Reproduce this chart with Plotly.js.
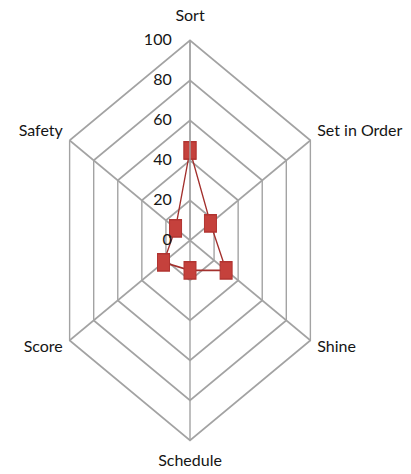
<!DOCTYPE html>
<html>
<head>
<meta charset="utf-8">
<script src="https://cdn.plot.ly/plotly-3.0.1.min.js"></script>
<style>
  html, body { margin: 0; padding: 0; background: #ffffff; overflow: hidden; width: 411px; height: 474px; }
  #chart { width: 411px; height: 329px; transform-origin: 0 0; }
</style>
</head>
<body>
<div id="chart"></div>
<script>
// Data
const categories = ["Sort", "Set in Order", "Shine", "Schedule", "Score", "Safety"];
const scores = [45, 17, 30, 15, 22, 12];
const radialTicks = [0, 20, 40, 60, 80, 100];

// Reference picture is stretched vertically relative to a regular radar
const STRETCH = 1.439;

const gridColor = "#a3a3a3";
const fontFamily = "Lato, 'Open Sans', 'Liberation Sans', sans-serif";

const trace = {
  type: "scatterpolar",
  r: scores.concat([scores[0]]),
  theta: categories.concat([categories[0]]),
  mode: "lines+markers",
  line: { color: "#a3302d", width: 1.3 },
  marker: { symbol: "square", size: 12, color: "#c5413c", line: { color: "#b13431", width: 1 } },
  hoverinfo: "skip",
  showlegend: false
};

const layout = {
  width: 411,
  height: 329,
  margin: { l: 51, r: 82, t: 28, b: 23, pad: 0 },
  paper_bgcolor: "#ffffff",
  plot_bgcolor: "#ffffff",
  font: { family: fontFamily, size: 16, color: "#151515" },
  showlegend: false,
  polar: {
    bgcolor: "#ffffff",
    gridshape: "linear",
    domain: { x: [0, 1], y: [0, 1] },
    angularaxis: {
      rotation: 90,
      direction: "clockwise",
      type: "category",
      categoryorder: "array",
      categoryarray: categories,
      showline: true,
      linecolor: gridColor,
      linewidth: 1.4,
      showgrid: true,
      gridcolor: gridColor,
      gridwidth: 1.4,
      ticks: "outside",
      ticklen: 4,
      tickcolor: "rgba(0,0,0,0)",
      tickfont: { family: fontFamily, size: 16, color: "#151515" }
    },
    radialaxis: {
      range: [0, 100],
      tickmode: "array",
      tickvals: radialTicks,
      ticktext: radialTicks.map(String),
      angle: 90,
      side: "counterclockwise",
      tickangle: 90,
      showline: true,
      linecolor: gridColor,
      linewidth: 1.4,
      showgrid: true,
      gridcolor: gridColor,
      gridwidth: 1.4,
      ticks: "outside",
      ticklen: 12,
      tickcolor: "rgba(0,0,0,0)",
      tickfont: { family: fontFamily, size: 16, color: "#151515" }
    }
  }
};

Plotly.newPlot("chart", [trace], layout, { displayModeBar: false, staticPlot: true }).then(function (gd) {
  gd.style.transform = "scaleY(" + STRETCH + ")";
  const centreY = layout.margin.t + (layout.height - layout.margin.t - layout.margin.b) / 2;
  // keep text undistorted: counter-scale each label about its own centre
  gd.querySelectorAll(".main-svg text").forEach(function (t) {
    const b = t.getBBox();
    const cx = b.x + b.width / 2, cy = b.y + b.height / 2;
    let shift = 0;
    if (t.closest(".angularaxistick")) {
      const box = t.getBoundingClientRect();
      const midY = (box.top + box.bottom) / 2 / STRETCH;
      if (midY > centreY + 100) shift = -6 / STRETCH;
      else if (midY > centreY + 20) shift = -10 / STRETCH;
    }
    const tr = t.getAttribute("transform") || "";
    t.setAttribute("transform", tr + " translate(0," + shift + ") translate(" + cx + "," + cy + ") scale(1," + (1 / STRETCH) + ") translate(" + (-cx) + "," + (-cy) + ")");
  });
});
</script>
</body>
</html>
